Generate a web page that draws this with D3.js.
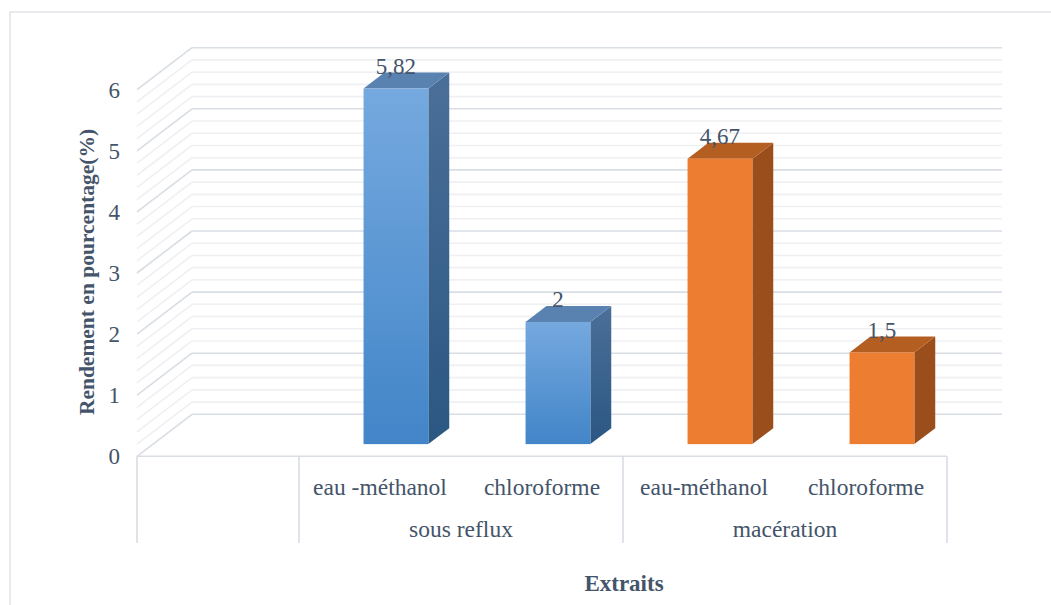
<!DOCTYPE html>
<html>
<head>
<meta charset="utf-8">
<script src="https://cdn.jsdelivr.net/npm/d3@7/dist/d3.min.js"></script>
<style>
  html, body { margin: 0; padding: 0; background: #ffffff; }
  svg { display: block; }
  svg text { font-family: 'Liberation Serif', 'DejaVu Serif', serif; }
</style>
</head>
<body>
<svg id="chart" width="1051" height="605"></svg>
<script>
// Extraction yields (%) by solvent, grouped by extraction method
const subLabels   = ["", "eau -méthanol", "chloroforme", "eau-méthanol", "chloroforme"];
const groupLabels = ["sous reflux", "macération"];
const groupOf     = [-1, 0, 0, 1, 1];           // group index of each category slot
const values      = [null, 5.82, 2, 4.67, 1.5];
const yTicks      = [0, 1, 2, 3, 4, 5, 6];
const yTitle      = "Rendement en pourcentage(%)";
const xTitle      = "Extraits";

const svg = d3.select("#chart");
const textColor = "#44546a";
const serif = "'Liberation Serif', 'DejaVu Serif', serif";

// 3D box: front plane x-range, back wall vertical range, depth offset
const frontLeft = 137, frontRight = 947;
const DX = 55, DY = 42;

const x = d3.scaleBand().domain(d3.range(subLabels.length)).range([frontLeft, frontRight]);
const yBack = d3.scaleLinear().domain([0, 6]).range([414.3, 47.7]);

// project a point given front-plane x, value and depth d (0 = front, 1 = back wall)
const P = (xf, v, d) => [xf + d * DX, yBack(v) + DY * (1 - d)];

// outer chart frame
svg.append("rect")
  .attr("x", 10).attr("y", 12).attr("width", 1100).attr("height", 700)
  .attr("fill", "none").attr("stroke", "#d9dde3").attr("stroke-width", 1.2);

// gridlines every 0.2, major every 1
const gridVals = d3.range(0, 30 + 1).map(i => i / 5);
const grid = svg.append("g");
gridVals.forEach(v => {
  const major = Math.abs(v - Math.round(v)) < 1e-9;
  const col = major ? "#d9dde4" : "#eef0f3";
  const [bx, by] = P(frontLeft, v, 1);
  const [fx, fy] = P(frontLeft, v, 0);
  // back wall line
  grid.append("line")
    .attr("x1", bx).attr("y1", by).attr("x2", P(frontRight, v, 1)[0]).attr("y2", by)
    .attr("stroke", col).attr("stroke-width", 1.6);
  // side wall diagonal
  grid.append("line")
    .attr("x1", fx).attr("y1", fy).attr("x2", bx).attr("y2", by)
    .attr("stroke", col).attr("stroke-width", 1.6);
});

// floor front edge
svg.append("line")
  .attr("x1", frontLeft).attr("x2", frontRight)
  .attr("y1", P(0, 0, 0)[1]).attr("y2", P(0, 0, 0)[1])
  .attr("stroke", "#d9dde4").attr("stroke-width", 1.6);

// category box dividers (outer edges and group boundaries)
const axisY0 = P(0, 0, 0)[1], axisY1 = 543;
const dividers = [frontLeft, x(1), x(3), frontRight];
dividers.forEach(dx => {
  svg.append("line")
    .attr("x1", dx).attr("x2", dx).attr("y1", axisY0).attr("y2", axisY1)
    .attr("stroke", "#d9dde4").attr("stroke-width", 1.6);
});

// gradients
const defs = svg.append("defs");
function grad(id, c0, c1) {
  const g = defs.append("linearGradient").attr("id", id)
    .attr("x1", 0).attr("y1", 0).attr("x2", 0).attr("y2", 1);
  g.append("stop").attr("offset", "0%").attr("stop-color", c0);
  g.append("stop").attr("offset", "100%").attr("stop-color", c1);
}
grad("blueFront", "#75a9df", "#4285c8");
grad("blueSide", "#4b6f98", "#2b5783");
const palette = [
  { front: "url(#blueFront)", side: "url(#blueSide)", top: "#5a82b0" },
  { front: "#ed7d31", side: "#9a4e1c", top: "#b55e22" }
];

// bars
const barW = x.bandwidth() * 0.4;
const d1 = 0.29, d2 = 0.67;
const fmt = d3.formatLocale({ decimal: ",", thousands: " ", grouping: [3], currency: ["", "€"] }).format("~g");

const bars = svg.append("g");
values.forEach((v, i) => {
  if (v == null) return;
  const c = palette[groupOf[i]];
  const cx = x(i) + x.bandwidth() / 2;
  const xl = cx - barW / 2, xr = cx + barW / 2;
  const poly = pts => pts.map(p => p.join(",")).join(" ");
  // side face
  bars.append("polygon")
    .attr("points", poly([P(xr, v, d1), P(xr, v, d2), P(xr, 0, d2), P(xr, 0, d1)]))
    .attr("fill", c.side);
  // top face
  bars.append("polygon")
    .attr("points", poly([P(xl, v, d1), P(xl, v, d2), P(xr, v, d2), P(xr, v, d1)]))
    .attr("fill", c.top);
  // front face
  const [fx0, fy0] = P(xl, v, d1);
  const [fx1, fy1] = P(xr, 0, d1);
  bars.append("rect")
    .attr("x", fx0).attr("y", fy0).attr("width", fx1 - fx0).attr("height", fy1 - fy0)
    .attr("fill", c.front);
  // value label
  bars.append("text")
    .attr("x", (fx0 + fx1) / 2).attr("y", P(xl, v, d2)[1] + 1)
    .attr("text-anchor", "middle")
    .attr("font-family", serif)
    .attr("font-size", 23).attr("fill", textColor)
    .text(fmt(v));
});

// y tick labels along the front edge of the side wall
svg.append("g").selectAll("text").data(yTicks).join("text")
  .attr("x", 120).attr("y", d => P(frontLeft, d, 0)[1])
  .attr("dy", "0.35em")
  .attr("text-anchor", "end")
  .attr("font-family", serif)
  .attr("font-size", 23).attr("fill", textColor)
  .text(d => d);

// category labels
svg.append("g").selectAll("text").data(subLabels).join("text")
  .attr("x", (d, i) => x(i) + x.bandwidth() / 2).attr("y", 487)
  .attr("dy", "0.35em").attr("text-anchor", "middle")
  .attr("font-family", serif)
  .attr("font-size", 23.5).attr("fill", textColor)
  .text(d => d);

// group labels
svg.append("g").selectAll("text").data(groupLabels).join("text")
  .attr("x", (d, g) => {
    const idx = groupOf.map((k, i) => k === g ? i : -1).filter(i => i >= 0);
    return (x(idx[0]) + x(idx[idx.length - 1]) + x.bandwidth()) / 2;
  })
  .attr("y", 529).attr("dy", "0.35em").attr("text-anchor", "middle")
  .attr("font-family", serif)
  .attr("font-size", 23.5).attr("fill", textColor)
  .text(d => d);

// axis titles
svg.append("text")
  .attr("transform", "translate(86,272) rotate(-90)")
  .attr("text-anchor", "middle").attr("dy", "0.35em")
  .attr("font-family", serif)
  .attr("font-size", 21.5).attr("font-weight", "bold").attr("fill", textColor)
  .text(yTitle);

svg.append("text")
  .attr("x", 624).attr("y", 583).attr("dy", "0.35em")
  .attr("text-anchor", "middle")
  .attr("font-family", serif)
  .attr("font-size", 23).attr("font-weight", "bold").attr("fill", textColor)
  .text(xTitle);
</script>
</body>
</html>
